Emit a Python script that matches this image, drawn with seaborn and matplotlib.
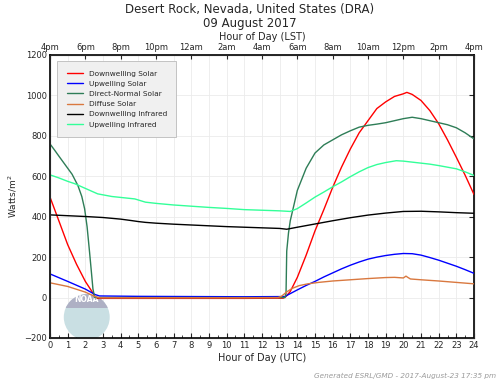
import numpy as np
import pandas as pd
import matplotlib
matplotlib.use('Agg')
from matplotlib import pyplot as plt
from matplotlib.patches import Ellipse, Rectangle
import seaborn as sns

# Radiation readings for DRA, 09 Aug 2017 (UTC hour, W/m^2)

# Downwelling Solar
dswHr = [0, 0.5, 1, 1.5, 2, 2.3, 2.55, 2.7, 5, 8, 11, 13.2, 13.35, 13.6, 14, 14.5, 15, 15.5,
         16, 16.5, 17, 17.5, 18, 18.5, 19, 19.5, 20, 20.2, 20.5, 21, 21.5, 22, 22.5, 23, 23.5, 24]
dswVal = [497, 380, 262, 165, 80, 40, 5, -4, -4, -4, -4, -3, 5, 30, 100, 210, 330, 435,
          545, 645, 735, 815, 875, 935, 968, 995, 1008, 1015, 1005, 975, 925, 860, 780, 694, 605, 510]

# Upwelling Solar
uswHr = [0, 1, 2, 2.55, 2.8, 5, 8, 11, 13.3, 13.5, 14, 14.5, 15, 15.5, 16, 16.5, 17, 17.5,
         18, 18.5, 19, 19.5, 20, 20.5, 21, 21.5, 22, 22.5, 23, 23.5, 24]
uswVal = [117, 80, 42, 15, 8, 6, 5, 4, 5, 15, 38, 60, 80, 102, 122, 142, 160, 176,
          190, 200, 208, 214, 218, 217, 210, 198, 185, 170, 155, 138, 120]

# Direct-Normal Solar
dniHr = [0, 0.28, 0.5, 1, 1.25, 1.58, 1.8, 1.96, 2.1, 2.24, 2.35, 2.43, 2.53, 5, 8, 11, 13.3,
         13.36, 13.4, 13.5, 13.6, 14, 14.5, 15, 15.5, 16, 16.5, 17, 17.5, 18, 18.5, 19, 19.5,
         20, 20.5, 21, 21.5, 22, 22.5, 23, 23.5, 24]
dniVal = [760, 727, 700, 640, 610, 554, 500, 439, 350, 224, 120, 43, 0, 0, 0, 0, 0,
          20, 230, 320, 380, 530, 640, 715, 755, 780, 805, 825, 843, 852, 858, 865, 875,
          885, 892, 885, 875, 865, 855, 840, 815, 785]

# Diffuse Solar
difHr = [0, 1, 2, 2.55, 2.8, 5, 8, 11, 12.9, 13.1, 13.4, 13.7, 14.1, 14.6, 15.2, 16, 17, 18,
         19, 19.5, 20, 20.15, 20.25, 20.4, 21, 21.5, 22, 23, 24]
difVal = [73, 55, 27, 5, -1, -1, -1, -1, 0, 6, 28, 45, 59, 68, 75, 82, 88, 94,
          99, 100, 97, 106, 100, 92, 88, 85, 82, 75, 68]

# Downwelling Infrared
dlwHr = [0, 1, 2, 3, 4, 4.6, 5, 5.4, 6, 7, 8, 9, 10, 11, 12, 13, 13.4, 14, 15, 16, 17, 18,
         19, 20, 21, 22, 23, 24]
dlwVal = [409, 405, 401, 396, 388, 381, 376, 372, 368, 363, 359, 355, 351, 348, 345, 342, 338,
          348, 364, 380, 395, 408, 418, 426, 427, 424, 420, 417]

# Upwelling Infrared
ulwHr = [0, 0.5, 1, 1.41, 2, 2.7, 3.5, 4.8, 5.4, 6, 7, 8, 9, 10, 11, 12, 13, 13.6, 14, 14.5,
         15, 15.5, 16, 16.5, 17, 17.5, 18, 18.5, 19, 19.6, 20, 20.5, 21, 21.5, 22, 22.5, 23,
         23.5, 24]
ulwVal = [607, 592, 575, 563, 540, 513, 500, 488, 472, 466, 458, 452, 446, 441, 435, 432, 429,
          426, 440, 468, 497, 522, 548, 572, 598, 622, 643, 658, 668, 677, 675, 670, 665, 660,
          653, 645, 637, 622, 604]

seriesNames = ['Downwelling Solar', 'Upwelling Solar', 'Direct-Normal Solar',
               'Diffuse Solar', 'Downwelling Infrared', 'Upwelling Infrared']
seriesColors = ['#ff0000', '#0000ff', '#2e7d57', '#d9783f', '#000000', '#33ff99']
lstLabels = ['4pm', '6pm', '8pm', '10pm', '12am', '2am', '4am', '6am', '8am', '10am',
             '12pm', '2pm', '4pm']

allHr = [dswHr, uswHr, dniHr, difHr, dlwHr, ulwHr]
allVal = [dswVal, uswVal, dniVal, difVal, dlwVal, ulwVal]
frames = []
for name, h, v in zip(seriesNames, allHr, allVal):
    frames.append(pd.DataFrame({'hour': h, 'value': v, 'series': name}))
df = pd.concat(frames, ignore_index=True)

sns.set_style('white')
plt.rcParams['font.family'] = ['DejaVu Sans']

fig = plt.figure(figsize=(4.99, 3.84), dpi=100)
ax = fig.add_axes([0.1002, 0.1198, 0.8497, 0.737])

# faded NOAA logo behind the curves
logoX, logoY = 2.08, -97
ax.add_patch(Ellipse((logoX, logoY), 2.6, 228, facecolor='#c9dfe3', edgecolor='none', zorder=1))
cap = Ellipse((logoX, logoY), 2.6, 228, facecolor='#aeb0c4', edgecolor='none', zorder=1)
ax.add_patch(cap)
clipRect = Rectangle((0.5, -50), 4, 120, transform=ax.transData)
cap.set_clip_path(clipRect)
ax.text(logoX, -12, 'NOAA', color='white', fontsize=5.5, fontweight='bold',
        ha='center', va='center', zorder=1)

sns.lineplot(data=df, x='hour', y='value', hue='series', hue_order=seriesNames,
             palette=dict(zip(seriesNames, seriesColors)), estimator=None, sort=False,
             lw=1.0, ax=ax, zorder=3)

ax.set_xlim(0, 24)
ax.set_ylim(-200, 1200)
ax.set_xticks(range(25))
ax.set_xticks(np.arange(0.5, 24, 1), minor=True)
ax.set_yticks(range(-200, 1201, 200))
ax.grid(True, which='major', color='#ebebeb', lw=0.6)
ax.set_axisbelow(True)
ax.tick_params(which='major', direction='in', labelsize=6, right=True, length=3.5, width=0.8, pad=2)
ax.tick_params(which='minor', direction='in', length=2, width=0.6, bottom=True)
for sp in ax.spines.values():
    sp.set_linewidth(1.2)
    sp.set_color('black')
ax.set_xlabel('Hour of Day (UTC)', fontsize=7, labelpad=2)
ax.set_ylabel('Watts/m$^2$', fontsize=6.5, labelpad=4)

ax2 = ax.twiny()
ax2.set_xlim(0, 24)
ax2.set_xticks(range(0, 25, 2))
ax2.set_xticklabels(lstLabels)
ax2.tick_params(direction='in', labelsize=6, length=3, width=0.8, pad=2)
ax2.set_xlabel('Hour of Day (LST)', fontsize=7, labelpad=2)

handles, labels = ax.get_legend_handles_labels()
leg = ax.legend(handles, labels, loc='upper left', bbox_to_anchor=(0.0165, 0.979),
                borderaxespad=0, fontsize=5.3, handlelength=2.3, handletextpad=0.7,
                labelspacing=0.55, borderpad=1.3, frameon=True, fancybox=False,
                facecolor='#f0f0f0', edgecolor='#bbbbbb', framealpha=1)
leg.get_frame().set_linewidth(0.6)

fig.text(0.5, 1 - 10 / 384, 'Desert Rock, Nevada, United States (DRA)', ha='center',
         va='center', fontsize=8.5)
fig.text(0.5, 1 - 23 / 384, '09 August 2017', ha='center', va='center', fontsize=8.5)
fig.text(0.994, 1 - 376 / 384, 'Generated ESRL/GMD - 2017-August-23 17:35 pm', ha='right',
         va='center', fontsize=5.2, style='italic', color='#9a9a9a')

fig.savefig('out.png', dpi=100)
